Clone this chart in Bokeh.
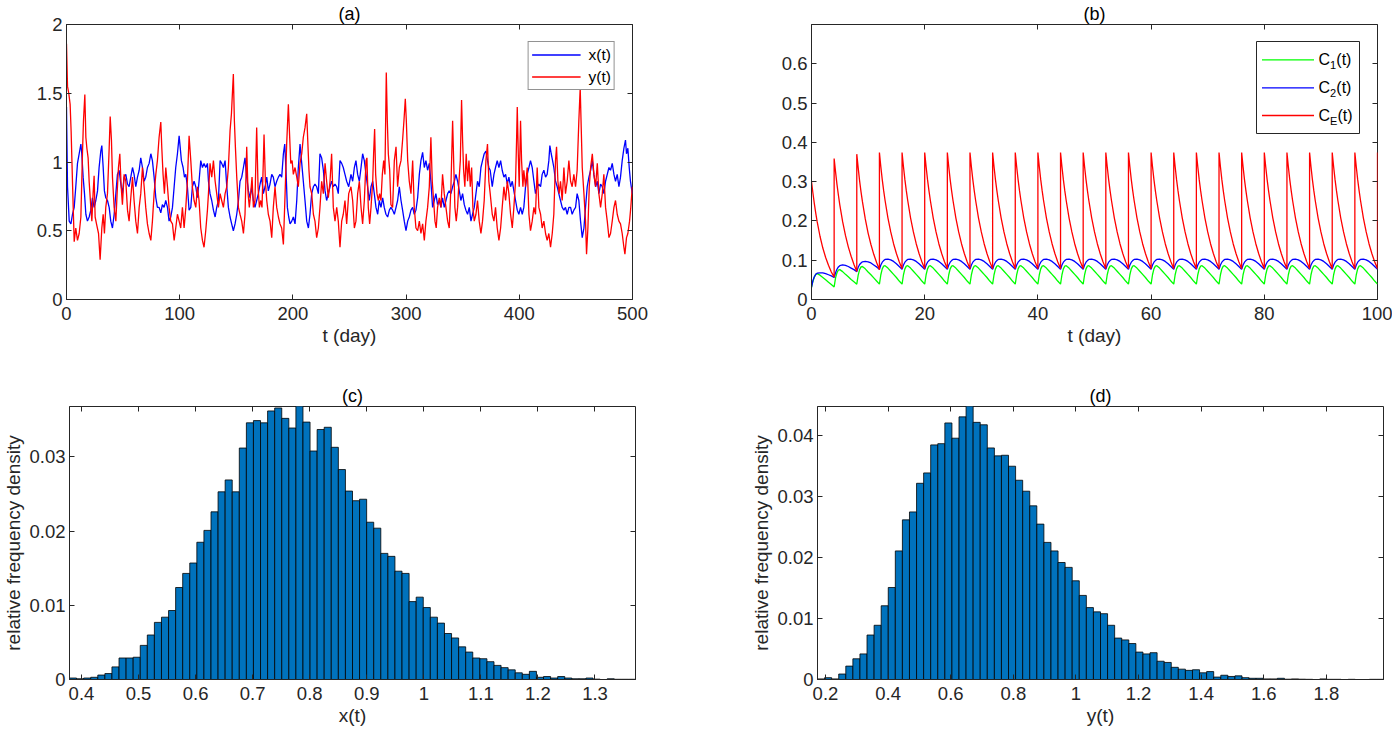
from bokeh.plotting import figure
from bokeh.layouts import column, row
from bokeh.models import (Range1d, FixedTicker, CustomJSTickFormatter, LinearAxis,
                          Legend, LegendItem, BoxAnnotation, Label, Title)
from bokeh.embed import file_html
from bokeh.resources import INLINE

FONT = "Liberation Sans"
AX = "#262626"

# ---------------- panel (a): x(t), y(t) (t in days) ----------------
x_pts = [
 (0,1.40),(0.9,0.82),(2.4,0.57),(3.9,0.55),(5.3,0.62),(6.8,0.67),(8.2,0.82),(9.7,0.99),(11.2,1.06),(12.7,1.13),
 (13.5,1.06),(14.7,0.89),(15.9,0.77),(17.1,0.62),(18.5,0.57),(20.0,0.60),(21.5,0.65),(22.9,0.74),(24.4,0.67),(25.9,0.72),
 (27.4,0.79),(28.8,0.96),(30.3,1.08),(31.2,1.12),(32.4,0.96),(33.5,0.79),(34.7,0.74),(36.2,0.72),(37.7,0.67),(39.1,0.57),
 (40.6,0.52),(42.1,0.62),(43.6,0.77),(45.0,0.91),(46.5,0.94),(48.0,0.84),(49.4,0.77),(50.9,0.89),(52.4,0.91),(53.9,0.84),
 (55.3,0.82),(56.8,0.89),(58.3,0.96),(59.7,0.91),(61.2,0.82),(62.7,0.89),(64.2,0.94),(65.6,1.03),(67.1,0.96),(68.6,0.86),
 (70.0,0.89),(71.5,0.96),(73.0,0.99),(74.5,1.06),(75.9,1.01),(77.4,0.89),(78.9,0.74),(80.3,0.67),(81.8,0.67),(83.3,0.63),
 (84.7,0.69),(86.2,0.67),(87.7,0.72),(89.2,0.67),(90.6,0.57),(92.1,0.60),(93.6,0.67),(95.1,0.82),(96.5,0.96),(98.0,1.06),
 (99.5,1.19),(100.4,1.11),(101.5,1.01),(103.0,0.96),(104.2,0.89),(105.4,0.91),(106.8,0.82),(108.3,0.65),(109.8,0.67),(111.2,0.82),
 (112.7,0.86),(114.2,0.82),(115.7,0.74),(117.1,0.86),(118.6,1.01),(120.1,0.96),(121.5,0.99),(123.0,0.96),(124.5,0.99),
 (125.4,0.86),(126.8,0.77),(128.3,0.72),(129.8,0.65),(131.3,0.60),(132.7,0.67),(134.2,0.72),(135.7,1.01),(137.1,0.99),(138.6,0.96),
 (140.1,1.01),(141.6,0.82),(143.0,0.67),(144.5,0.60),(145.9,0.55),(147.4,0.50),(148.9,0.55),(150.4,0.62),(151.9,0.72),(153.3,0.86),
 (154.8,0.89),(156.3,0.96),(157.7,1.03),(159.2,0.89),(160.7,0.79),(162.2,0.74),(163.6,0.82),(165.1,0.72),(166.5,0.67),(168.0,0.72),
 (169.5,0.77),(171.0,0.84),(172.4,0.89),(173.9,0.77),(175.4,0.82),(176.9,0.89),(178.3,0.79),(179.8,0.84),(181.3,0.91),(182.7,0.89),
 (184.2,0.82),(185.7,0.86),(187.2,0.89),(188.6,0.91),(190.1,0.89),(191.6,1.06),(192.8,1.13),(193.9,0.94),(195.1,0.67),(196.3,0.60),
 (197.5,0.55),(199.0,0.57),(200.4,0.60),(201.9,0.55),(203.4,0.72),(204.8,0.96),(206.3,1.13),(207.8,0.99),(209.2,0.86),(210.7,0.72),
 (212.2,0.57),(213.7,0.52),(215.1,0.62),(216.6,0.77),(218.1,0.82),(219.5,0.84),(221.0,0.82),(222.5,0.77),(223.9,1.06),(225.4,1.03),
 (226.9,0.94),(228.4,0.79),(229.8,0.72),(231.3,0.77),(232.8,0.82),(234.2,0.86),(235.7,0.82),(237.2,0.84),(238.7,0.82),(240.1,0.77),
 (241.6,1.01),(243.1,0.99),(244.5,0.96),(246.0,0.91),(247.5,0.86),(249.3,0.82),
 (251.3,0.91),(252.8,0.86),(254.3,0.96),(255.7,1.01),(257.2,0.91),(258.7,0.86),(260.2,0.96),(261.6,1.06),(263.1,1.01),(264.6,0.91),
 (266.0,0.82),(267.5,0.72),(269.0,0.82),(270.5,0.86),(271.9,0.77),(273.4,0.67),(274.9,0.62),(276.3,0.72),(277.8,0.67),(279.3,0.74),
 (280.7,0.67),(282.2,0.62),(283.7,0.60),(285.2,0.65),(286.6,0.67),(288.1,0.65),(289.6,0.62),(291.1,0.67),(292.5,0.72),(294.0,0.82),
 (295.5,0.72),(296.9,0.65),(298.4,0.57),(299.9,0.50),(301.4,0.57),(302.8,0.60),(304.3,0.65),(305.8,0.67),(307.2,0.62),(308.7,0.65),
 (310.2,0.74),(311.7,0.91),(313.1,1.01),(314.6,1.07),(316.1,0.96),(317.5,1.01),(319.0,0.94),(320.5,0.99),(321.9,0.86),(323.4,0.67),
 (324.9,0.72),(326.3,0.77),(327.8,0.69),(329.3,0.72),(330.8,0.67),(332.2,0.74),(333.7,0.67),(335.2,0.72),(336.7,0.77),(338.1,0.79),
 (339.6,0.77),(341.1,0.82),(342.6,0.86),(344.0,0.91),(345.5,0.86),(347.0,0.79),(348.4,0.72),(349.9,0.77),(351.4,0.69),(352.8,0.65),
 (354.3,0.62),(355.8,0.67),(357.3,0.57),(358.7,0.62),(360.2,0.67),(361.7,0.77),(363.1,0.86),(364.6,0.82),(366.1,0.96),(367.5,1.01),
 (369.0,1.06),(370.5,1.08),(371.9,1.01),(373.1,0.96),(374.3,0.94),
 (376.1,0.82),(377.6,0.91),(379.0,0.96),(380.5,1.01),(382.0,0.96),(383.5,1.01),(384.9,0.94),(386.4,0.89),(387.9,0.91),(389.4,0.84),
 (390.8,0.89),(392.3,0.82),(393.8,0.86),(395.2,0.79),(396.7,0.72),(398.2,0.65),(399.6,0.62),(401.1,0.67),(402.6,0.62),(404.0,0.67),
 (405.5,0.82),(407.0,0.91),(408.5,0.96),(409.9,1.01),(411.4,0.96),(412.9,0.86),(414.3,0.77),(415.8,0.82),(417.3,0.84),(418.8,0.82),
 (420.2,0.91),(421.7,0.94),(423.2,0.89),(424.6,0.91),(426.1,1.01),(427.0,1.12),(428.2,1.06),(429.4,1.01),(430.5,0.96),(432.0,0.86),
 (433.5,0.82),(434.9,0.77),(436.4,0.72),(437.9,0.67),(439.4,0.65),(440.8,0.67),(442.3,0.62),(443.8,0.67),(445.3,0.67),(446.7,0.62),
 (448.2,0.65),(449.7,0.67),(451.1,0.77),(452.6,0.72),(454.1,0.57),(455.6,0.45),(457.1,0.52),(458.5,0.67),(460.0,0.82),(461.5,0.89),
 (463.0,0.94),(464.5,1.01),(465.9,0.91),(467.4,0.82),(468.9,0.86),(470.3,0.77),(471.8,0.84),(473.3,0.82),(474.7,0.77),(476.2,0.86),
 (477.7,0.91),(479.2,0.96),(480.6,0.94),(482.1,0.99),(483.6,0.91),(485.0,0.86),(486.5,0.91),(488.0,0.82),(489.4,0.89),(490.9,1.01),
 (492.4,1.10),(493.8,1.16),(494.7,1.06),(495.9,1.10),(497.1,0.96),(498.2,0.86),(499.8,0.77),
]

y_pts = [
 (0,1.86),(0.9,1.55),(2.0,1.50),(3.2,1.42),(4.1,1.22),(5.3,0.85),(6.8,0.42),(8.2,0.52),(9.7,0.43),(11.2,0.48),
 (12.7,0.60),(14.1,1.06),(15.0,1.30),(16.2,1.49),(17.1,1.18),(18.0,1.10),(19.1,1.03),(20.0,0.86),(21.5,0.67),(22.4,0.57),
 (23.5,0.77),(24.4,0.90),(25.3,0.60),(26.5,0.55),(28.3,0.48),(29.7,0.29),(31.2,0.52),(32.4,0.62),(33.5,0.48),(34.7,0.67),
 (36.2,0.77),(37.7,1.10),(38.6,1.33),(39.7,1.16),(40.6,0.89),(42.1,0.67),(43.6,0.57),(44.7,0.77),(45.9,0.96),(47.1,1.06),
 (48.3,0.82),(49.4,0.69),(50.9,0.91),(52.4,0.86),(53.9,0.65),(55.3,0.57),(56.8,0.74),(58.3,0.89),(59.7,0.72),(61.2,0.57),
 (62.7,0.48),(64.2,0.67),(65.6,0.77),(67.1,0.96),(68.6,0.82),(70.0,0.67),(71.5,0.55),(73.0,0.48),(74.5,0.43),(75.9,0.57),
 (77.4,0.77),(78.9,0.91),(80.3,1.01),(81.8,1.18),(83.3,1.29),(84.2,1.10),(85.3,0.91),(86.5,0.77),(87.7,0.96),(89.2,0.82),
 (90.6,0.67),(92.1,0.57),(93.6,0.55),(95.1,0.43),(96.5,0.52),(98.0,0.62),(99.5,0.57),(100.9,0.52),(102.4,0.67),(103.9,0.52),
 (105.4,0.67),(106.8,0.86),(108.3,1.19),(109.8,1.01),(111.2,0.82),(112.7,0.72),(114.2,0.67),(115.7,0.82),(117.1,0.72),(118.6,0.52),
 (120.1,0.43),(121.5,0.38),(123.0,0.50),(124.5,0.65),
 (125.4,0.77),(126.8,0.99),(128.3,0.89),(129.8,1.01),(131.3,0.86),(132.7,0.77),(134.2,0.67),(135.7,0.77),(137.1,0.72),(138.6,0.67),
 (140.1,0.77),(141.6,0.82),(143.0,0.96),(144.5,1.23),(145.7,1.35),(146.8,1.54),(147.4,1.64),(148.3,1.30),(149.2,1.11),(150.4,0.89),
 (151.9,0.67),(153.3,0.62),(154.8,0.57),(156.3,0.48),(157.7,0.62),(159.2,1.11),(160.4,0.77),(161.5,0.67),(162.7,0.77),(163.9,0.89),
 (165.1,0.67),(166.5,0.72),(168.0,1.25),(169.2,0.82),(170.4,0.67),(171.6,0.72),(172.7,0.67),(173.9,1.01),(174.5,1.20),(175.7,0.86),
 (176.9,0.72),(178.3,0.62),(179.8,0.57),(181.3,0.45),(182.7,0.67),(184.2,0.82),(185.7,0.67),(187.2,0.60),(188.6,0.55),(190.1,0.52),
 (191.6,0.40),(193.1,0.77),(194.5,1.13),(196.0,1.42),(196.9,1.23),(198.1,0.99),(199.3,1.01),(200.4,0.91),(201.9,0.96),(203.4,0.89),
 (204.8,0.82),(206.3,0.99),(207.8,1.06),(209.2,1.18),(210.7,1.25),(212.2,1.35),(213.1,1.16),(214.2,0.94),(215.1,0.82),(216.6,0.77),
 (218.1,0.62),(219.5,0.57),(221.0,0.45),(222.5,0.52),(223.9,0.67),(225.4,0.86),(226.9,0.77),(228.4,0.99),(229.8,0.86),(231.3,0.74),
 (232.8,0.86),(234.2,1.06),(235.7,0.67),(237.2,0.57),(238.7,0.67),(240.1,0.57),(241.6,0.38),(243.1,0.57),(244.5,0.62),(246.0,0.72),
 (247.5,0.55),(249.3,0.77),
 (251.3,0.82),(252.8,0.72),(254.3,0.52),(255.7,0.57),(257.2,0.77),(258.7,0.86),(260.2,0.67),(261.6,0.55),(263.1,0.72),(264.6,1.01),
 (265.4,1.03),(266.6,0.67),(267.8,0.55),(269.0,0.67),(270.5,0.86),(271.3,1.06),(272.2,1.24),(273.1,0.91),(274.3,0.77),(275.5,0.72),
 (276.6,0.77),(277.8,0.72),(279.0,0.91),(280.2,1.01),(281.3,0.91),(282.5,1.65),(283.4,1.30),(284.3,1.06),(285.5,0.94),(286.6,0.69),
 (288.1,0.67),(289.6,1.01),(291.1,1.11),(292.5,0.82),(294.0,0.96),(295.5,1.01),(296.9,1.16),(298.1,1.30),(299.3,1.46),(300.2,1.30),
 (301.4,1.01),(302.8,0.86),(304.3,0.77),(305.8,1.01),(307.2,0.67),(308.7,0.52),(310.2,0.50),(311.7,0.57),(313.1,0.48),(314.6,0.55),
 (316.1,0.43),(317.5,0.57),(319.0,0.67),(320.5,0.82),(321.9,1.18),(323.1,0.86),(324.3,0.72),(325.5,0.57),(326.6,0.52),(327.8,0.67),
 (329.3,0.74),(330.8,0.67),(332.2,0.91),(333.7,0.77),(335.2,0.67),(336.7,0.57),(338.1,0.52),(339.6,0.82),(341.1,1.30),(342.0,1.01),
 (343.1,0.67),(344.3,0.57),(345.5,0.67),(346.7,0.86),(347.9,1.01),(349.0,1.45),(349.9,1.16),(350.8,0.94),(351.9,0.82),(353.1,1.06),
 (354.3,0.86),(355.5,1.01),(356.7,0.82),(357.9,0.96),(359.0,0.67),(360.2,0.57),(361.7,0.62),(363.1,0.72),(364.6,0.57),(366.1,0.48),
 (367.5,0.57),(369.0,0.72),(370.5,1.01),(371.9,1.13),(373.1,0.86),(374.3,0.77),
 (376.1,0.62),(377.6,0.57),(379.0,0.67),(380.5,0.52),(382.0,0.43),(383.5,0.52),(384.9,0.67),(386.4,0.82),(387.9,0.72),(389.4,0.86),
 (390.8,0.77),(392.3,0.62),(393.8,0.52),(395.2,0.67),(396.7,0.86),(397.6,1.16),(398.2,1.40),(399.1,1.06),(399.9,0.82),(401.1,1.30),
 (402.0,1.01),(403.2,0.82),(404.0,0.94),(405.5,0.82),(407.0,0.96),(408.5,0.62),(409.9,0.50),(411.4,0.57),(412.9,0.67),(414.3,0.62),
 (415.8,0.96),(417.3,0.67),(418.8,0.62),(420.2,0.52),(421.7,0.57),(423.2,0.48),(424.6,0.43),(426.1,0.48),(427.6,0.38),(429.1,0.48),
 (430.5,0.62),(432.0,1.01),(432.9,1.11),(434.1,0.86),(435.2,0.77),(436.4,0.86),(437.9,0.72),(439.4,0.96),(440.8,0.77),(442.3,0.86),
 (443.8,1.01),(445.3,0.86),(446.7,0.82),(448.2,0.91),(449.7,0.82),(451.1,0.94),(452.6,1.30),(453.8,1.54),(454.7,1.25),(455.6,0.96),
 (457.1,0.77),(458.5,0.57),(459.4,0.33),(460.6,0.52),(461.8,0.82),(463.0,0.96),(464.5,1.06),(465.9,0.91),(467.4,0.82),(468.9,0.99),
 (470.3,0.77),(471.8,0.67),(473.3,0.77),(474.7,0.91),(476.2,0.67),(477.7,0.57),(479.2,0.45),(480.6,0.48),(482.1,0.57),(483.6,0.67),
 (485.0,0.72),(486.5,0.62),(488.0,0.57),(489.4,0.55),(490.9,0.48),(492.4,0.38),(493.3,0.33),(494.7,0.45),(495.9,0.48),(497.4,0.57),
 (498.5,0.67),(499.8,0.82),
]

# ---------------- panel (b): one impulse period (4 days) of each drug level ----------------
period_days = 4
cycle_offsets = [0, 0.25, 0.5, 0.75, 1, 1.5, 2, 2.5, 3, 3.5, 4]
CE_cycles = [
 [0.300, 0.271, 0.244, 0.220, 0.198, 0.161, 0.131, 0.107, 0.087, 0.070, 0.057],
 [0.359, 0.325, 0.293, 0.266, 0.241, 0.198, 0.163, 0.134, 0.110, 0.089, 0.071],
 [0.370, 0.335, 0.302, 0.274, 0.249, 0.205, 0.169, 0.140, 0.115, 0.094, 0.076],
]
CE_steady = [0.374, 0.338, 0.305, 0.277, 0.252, 0.208, 0.172, 0.142, 0.117, 0.096, 0.078]
C2_cycles = [
 [0.031, 0.048, 0.058, 0.064, 0.067, 0.068, 0.068, 0.066, 0.063, 0.060, 0.056],
 [0.056, 0.068, 0.077, 0.083, 0.086, 0.088, 0.087, 0.084, 0.080, 0.076, 0.071],
 [0.071, 0.082, 0.089, 0.093, 0.096, 0.097, 0.096, 0.093, 0.088, 0.083, 0.077],
]
C2_steady = [0.077, 0.088, 0.095, 0.099, 0.102, 0.103, 0.101, 0.097, 0.091, 0.084, 0.077]
C1_cycles = [
 [0.031, 0.046, 0.057, 0.064, 0.066, 0.062, 0.056, 0.050, 0.044, 0.038, 0.032],
 [0.032, 0.055, 0.068, 0.075, 0.076, 0.071, 0.064, 0.058, 0.051, 0.045, 0.039],
 [0.039, 0.062, 0.076, 0.083, 0.084, 0.078, 0.070, 0.063, 0.055, 0.047, 0.039],
]
C1_steady = [0.039, 0.063, 0.078, 0.085, 0.086, 0.080, 0.072, 0.064, 0.056, 0.047, 0.039]
n_cycles = 25
CE_last_dose = 0.374   # dose at t = 100

# ---------------- panel (c): histogram of x(t) ----------------
c_first_edge = 0.379
c_bin_width = 0.0124
c_density = [
 0.0002, 0.0001, 0.0002, 0.0003, 0.0006, 0.0008, 0.0017, 0.0029, 0.0029, 0.0030,
 0.0046, 0.0060, 0.0077, 0.0084, 0.0093, 0.0124, 0.0143, 0.0157, 0.0185, 0.0201,
 0.0226, 0.0253, 0.0269, 0.0253, 0.0312, 0.0346, 0.0349, 0.0346, 0.0362, 0.0366,
 0.0352, 0.0339, 0.0370, 0.0347, 0.0308, 0.0337, 0.0340, 0.0313, 0.0283, 0.0254,
 0.0241, 0.0243, 0.0212, 0.0204, 0.0170, 0.0166, 0.0146, 0.0143, 0.0105, 0.0111,
 0.0097, 0.0084, 0.0076, 0.0062, 0.0056, 0.0044, 0.0037, 0.0029, 0.0028, 0.0024,
 0.0019, 0.0016, 0.0013, 0.0009, 0.0007, 0.0011, 0.0003, 0.0004, 0.0002, 0.0004,
 0.0002, 0.0001, 0.0001, 0.0002, 0.00005, 0.0, 0.0001, 0.00003, 0.00003, 0.00003,
]

# ---------------- panel (d): histogram of y(t) ----------------
d_first_edge = 0.1745
d_bin_width = 0.0226
d_density = [
 0.0001, 0.0003, 0.0001, 0.0009, 0.0022, 0.0034, 0.0042, 0.0073, 0.0089, 0.0121,
 0.0151, 0.0211, 0.0262, 0.0275, 0.0322, 0.0339, 0.0385, 0.0387, 0.0421, 0.0396,
 0.0431, 0.0450, 0.0422, 0.0418, 0.0380, 0.0367, 0.0368, 0.0350, 0.0327, 0.0309,
 0.0285, 0.0255, 0.0225, 0.0211, 0.0192, 0.0184, 0.0162, 0.0138, 0.0118, 0.0111,
 0.0108, 0.0089, 0.0068, 0.0065, 0.0059, 0.0045, 0.0042, 0.0044, 0.0030, 0.0028,
 0.0020, 0.0017, 0.0015, 0.0016, 0.0011, 0.0013, 0.0004, 0.0007, 0.0005, 0.0006,
 0.0003, 0.0002, 0.0002, 0.0001, 0.0001, 0.0002, 0.00005, 0.0001, 0.00005, 0.00003,
 0.0, 0.0001, 0.00003, 0.00003, 0.0, 0.00003, 0.0, 0.0, 0.00003, 0.00003,
]

# ticks
a_xticks = [0, 100, 200, 300, 400, 500]
a_yticks = [0, 0.5, 1, 1.5, 2]
b_xticks = [0, 20, 40, 60, 80, 100]
b_yticks = [0, 0.1, 0.2, 0.3, 0.4, 0.5, 0.6]
c_xticks = [0.4, 0.5, 0.6, 0.7, 0.8, 0.9, 1.0, 1.1, 1.2, 1.3]
c_yticks = [0, 0.01, 0.02, 0.03]
d_xticks = [0.2, 0.4, 0.6, 0.8, 1.0, 1.2, 1.4, 1.6, 1.8]
d_yticks = [0, 0.01, 0.02, 0.03, 0.04]

TICK_FS = "18.5px"
LABEL_FS = "19px"
TITLE_FS = "18px"


def num_fmt():
    return CustomJSTickFormatter(code="return String(parseFloat(tick.toFixed(6)));")


def make_fig(title, xr, yr, xticks, yticks, fw, fh, mbl, mbr, mbt, mbb, xlabel, ylabel=None):
    ttl = Title(text=title, align="center", text_font=FONT, text_font_size=TITLE_FS,
                text_font_style="normal", text_color="#000000", standoff=2)
    p = figure(frame_width=fw, frame_height=fh, x_range=Range1d(*xr), y_range=Range1d(*yr),
               output_backend="svg", toolbar_location=None, title=ttl,
               min_border_left=mbl, min_border_right=mbr, min_border_top=mbt, min_border_bottom=mbb)
    p.grid.visible = False
    p.outline_line_color = AX
    p.outline_line_alpha = 1
    p.outline_line_width = 1
    p.background_fill_color = "white"
    p.border_fill_color = "white"
    for ax, ticks in ((p.xaxis[0], xticks), (p.yaxis[0], yticks)):
        ax.ticker = FixedTicker(ticks=ticks, minor_ticks=[])
        ax.formatter = num_fmt()
        ax.major_tick_in = 5
        ax.major_tick_out = 0
        ax.minor_tick_in = 0
        ax.minor_tick_out = 0
        ax.axis_line_color = AX
        ax.major_tick_line_color = AX
        ax.major_label_text_font = FONT
        ax.major_label_text_font_size = TICK_FS
        ax.major_label_text_color = AX
        ax.axis_label_text_font = FONT
        ax.axis_label_text_font_size = LABEL_FS
        ax.axis_label_text_font_style = "normal"
        ax.axis_label_text_color = AX
    p.xaxis[0].major_label_standoff = 7
    p.xaxis[0].axis_label = xlabel
    p.xaxis[0].axis_label_standoff = 2
    p.yaxis[0].major_label_standoff = 4
    p.yaxis[0].axis_label_standoff = 2
    if ylabel:
        p.yaxis[0].axis_label = ylabel
    for loc, ticks in (("above", xticks), ("right", yticks)):
        ax = LinearAxis(ticker=FixedTicker(ticks=ticks, minor_ticks=[]),
                        formatter=CustomJSTickFormatter(code="return '';"),
                        major_tick_in=5, major_tick_out=0, minor_tick_in=0, minor_tick_out=0,
                        axis_line_color=None, major_tick_line_color=AX,
                        major_label_standoff=0, major_label_text_font_size="1px")
        p.add_layout(ax, loc)
    return p


LW, RW = 566, 566
TOP_H, BOT_H = 275, 273

# ---------------- (a) ----------------
pa = make_fig("(a)", (0, 500), (0, 2), a_xticks, a_yticks, LW, TOP_H, 66, 113, 24, 56, "t (day)")
rx = pa.line([t for t, v in x_pts], [v for t, v in x_pts], line_color="#0000FF", line_width=1.3)
ry = pa.line([t for t, v in y_pts], [v for t, v in y_pts], line_color="#FF0000", line_width=1.3)
leg = Legend(items=[LegendItem(label="x(t)", renderers=[rx]), LegendItem(label="y(t)", renderers=[ry])],
             location="top_right", margin=17, padding=3, spacing=3, glyph_width=49, glyph_height=19,
             label_height=19, label_standoff=8, label_text_font=FONT, label_text_font_size="15.5px",
             label_text_color="#000000", border_line_color=AX, border_line_width=1,
             background_fill_alpha=1)
pa.add_layout(leg)

# ---------------- (b) ----------------
pb = make_fig("(b)", (0, 100), (0, 0.7), b_xticks, b_yticks, RW, TOP_H, 66, 15, 24, 56, "t (day)")


def build(cycles, steady):
    ts, vs = [], []
    for k in range(n_cycles):
        prof = cycles[k] if k < len(cycles) else steady
        for o, v in zip(cycle_offsets, prof):
            ts.append(k * period_days + o)
            vs.append(v)
    return ts, vs


t1, v1 = build(C1_cycles, C1_steady)
t2, v2 = build(C2_cycles, C2_steady)
tE, vE = build(CE_cycles, CE_steady)
tE.append(n_cycles * period_days)
vE.append(CE_last_dose)
series_b = [("C", "1", "#00FF00", t1, v1), ("C", "2", "#0000FF", t2, v2), ("C", "E", "#FF0000", tE, vE)]
for _, _, col, ts, vs in series_b:
    pb.line(ts, vs, line_color=col, line_width=1.3)

# hand-made legend (subscripts), placed in screen units relative to the frame
box_r = RW - 18
box_l = box_r - 103
box_t = TOP_H - 17
box_b = box_t - 92
pb.add_layout(BoxAnnotation(left=box_l, right=box_r, top=box_t, bottom=box_b,
                            left_units="screen", right_units="screen", top_units="screen", bottom_units="screen",
                            fill_color="white", fill_alpha=1, line_color=AX, line_width=1, line_alpha=1))
row_offsets = [18.3, 46.3, 74]
for (base, sub, col, _, _), ro in zip(series_b, row_offsets):
    yc = box_t - ro
    pb.add_layout(BoxAnnotation(left=box_l + 5.5, right=box_l + 57.5, top=yc + 0.65, bottom=yc - 0.65,
                                left_units="screen", right_units="screen", top_units="screen",
                                bottom_units="screen", fill_color=col, fill_alpha=1, line_color=None))
    x0 = box_l + 62
    pb.add_layout(Label(x=x0, y=yc, x_units="screen", y_units="screen", text=base, text_font=FONT,
                        text_font_size="16px", text_baseline="middle", text_align="left", text_color="#000000"))
    pb.add_layout(Label(x=x0 + 11.5, y=yc - 5, x_units="screen", y_units="screen", text=sub, text_font=FONT,
                        text_font_size="11px", text_baseline="middle", text_align="left", text_color="#000000"))
    sub_w = 7.5 if sub == "E" else 6.3
    pb.add_layout(Label(x=x0 + 11.5 + sub_w, y=yc, x_units="screen", y_units="screen", text="(t)", text_font=FONT,
                        text_font_size="16px", text_baseline="middle", text_align="left", text_color="#000000"))

# ---------------- (c) ----------------
c_hi = c_first_edge + len(c_density) * c_bin_width
pc = make_fig("(c)", (c_first_edge, c_hi), (0, 0.0368), c_xticks, c_yticks, LW, BOT_H, 66, 113, 51, 57,
              "x(t)", "relative frequency density")
c_left = [c_first_edge + i * c_bin_width for i in range(len(c_density))]
pc.quad(left=c_left, right=[l + c_bin_width for l in c_left], top=c_density, bottom=0,
        fill_color="#0072BD", line_color="#000000", line_width=0.8)

# ---------------- (d) ----------------
d_hi = d_first_edge + len(d_density) * d_bin_width
pd_ = make_fig("(d)", (d_first_edge, d_hi), (0, 0.0448), d_xticks, d_yticks, RW, BOT_H, 66, 15, 51, 57,
               "y(t)", "relative frequency density")
d_left = [d_first_edge + i * d_bin_width for i in range(len(d_density))]
pd_.quad(left=d_left, right=[l + d_bin_width for l in d_left], top=d_density, bottom=0,
         fill_color="#0072BD", line_color="#000000", line_width=0.8)

layout = column(row(pa, pb, spacing=0), row(pc, pd_, spacing=0), spacing=0)
open("out.html", "w").write(file_html(layout, INLINE))
